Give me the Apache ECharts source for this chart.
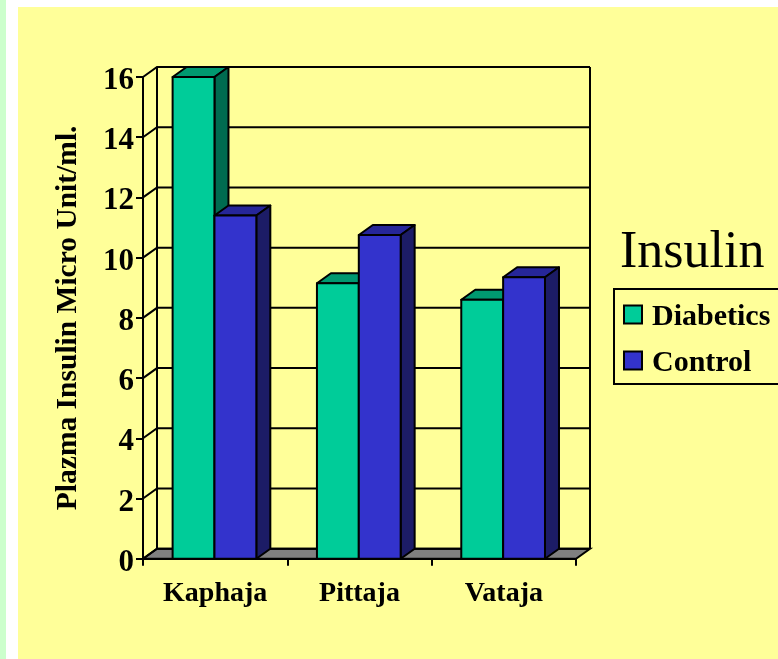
<!DOCTYPE html>
<html>
<head>
<meta charset="utf-8">
<style>html,body{margin:0;padding:0;background:#fff}#c{width:778px;height:659px}</style>
<script src="https://cdn.jsdelivr.net/npm/echarts@6/dist/echarts.min.js"></script>
</head>
<body>
<div id="c"></div>
<script>
var categories = ['Kaphaja', 'Pittaja', 'Vataja'];
var diabetics = [16, 9.15, 8.6];
var control = [11.4, 10.75, 9.35];
var yTicks = [0, 2, 4, 6, 8, 10, 12, 14, 16];

var DX = 14, DY = 10, SERIF = '"Liberation Serif","Times New Roman",serif';
var LINE = {stroke: '#000', lineWidth: 2, fill: null};

function wall(params, api) {
  var cs = params.coordSys;
  var p = api.coord([0, api.value(1)]);
  var y = p[1], x0 = cs.x, x1 = cs.x + cs.width;
  var kids = [{type: 'polyline', shape: {points: [[x0, y], [x0 + DX, y - DY], [x1 + DX, y - DY]]}, style: LINE}];
  if (api.value(1) === 0) {
    var top = cs.y - DY;
    kids.unshift({type: 'polygon', shape: {points: [[x0, y], [x0 + DX, y - DY], [x1 + DX, y - DY], [x1, y]]},
      style: {fill: '#808080', stroke: '#000', lineWidth: 2}});
    kids.push({type: 'line', shape: {x1: x0 + DX, y1: y - DY, x2: x0 + DX, y2: top}, style: LINE});
    kids.push({type: 'line', shape: {x1: x1 + DX, y1: y - DY, x2: x1 + DX, y2: top}, style: LINE});
  }
  return {type: 'group', children: kids};
}

function barRenderer(side, front, topC, sideC) {
  return function (params, api) {
    var t = api.coord([api.value(0), api.value(1)]);
    var b = api.coord([api.value(0), 0]);
    var w = api.size([1, 0])[0] * 0.29;
    var xa = (side < 0 ? t[0] - w : t[0]) - 0.7, xb = xa + w;
    var st = function (f) { return {fill: f, stroke: '#000', lineWidth: 2, lineJoin: 'round'}; };
    return {type: 'group', children: [
      {type: 'polygon', shape: {points: [[xa, t[1]], [xa + DX, t[1] - DY], [xb + DX, t[1] - DY], [xb, t[1]]]}, style: st(topC)},
      {type: 'polygon', shape: {points: [[xb, t[1]], [xb + DX, t[1] - DY], [xb + DX, b[1] - DY], [xb, b[1]]]}, style: st(sideC)},
      {type: 'rect', shape: {x: xa, y: t[1], width: w, height: b[1] - t[1]}, style: st(front)}
    ]};
  };
}

var chart = echarts.init(document.getElementById('c'), null, {renderer: 'canvas', width: 778, height: 659});
chart.setOption({
  animation: false,
  backgroundColor: '#fff',
  graphic: [
    {type: 'rect', z: -10, silent: true, shape: {x: 0, y: 0, width: 6, height: 659}, style: {fill: '#CCFFCC'}},
    {type: 'rect', z: -10, silent: true, shape: {x: 18, y: 7, width: 760, height: 652}, style: {fill: '#FFFF99'}}
  ],
  title: {text: 'Insulin', left: 615, top: 222,
    textStyle: {fontFamily: SERIF, fontWeight: 'normal', fontSize: 52, color: '#000'}},
  legend: {
    orient: 'vertical', left: 614, top: 289, align: 'left',
    data: ['Diabetics', 'Control'],
    icon: 'rect',
    padding: [13, 24, 6, 9], itemGap: 16, itemWidth: 18, itemHeight: 18,
    borderColor: '#000', borderWidth: 2, backgroundColor: 'transparent',
    formatter: '{a|{name}}',
    textStyle: {rich: {a: {fontFamily: SERIF, fontWeight: 'bold', fontSize: 30, color: '#000', padding: [5, 0, 0, 5]}}},
    itemStyle: {borderColor: '#000', borderWidth: 2}
  },
  grid: {left: 143, right: 202, top: 77, height: 481.7, containLabel: false},
  xAxis: {
    type: 'category', data: categories,
    axisLine: {show: true, lineStyle: {color: '#000', width: 2}},
    axisTick: {show: true, length: 7, lineStyle: {color: '#000', width: 2}},
    axisLabel: {fontFamily: SERIF, fontWeight: 'bold', fontSize: 28, color: '#000', margin: 21},
    splitLine: {show: false}
  },
  yAxis: {
    type: 'value', min: 0, max: 16, interval: 2,
    name: 'Plazma Insulin Micro Unit/ml.', nameLocation: 'middle', nameRotate: 90, nameGap: 60,
    nameTextStyle: {fontFamily: SERIF, fontWeight: 'bold', fontSize: 29.5, color: '#000'},
    axisLine: {show: true, lineStyle: {color: '#000', width: 2}},
    axisTick: {show: true, length: 7, lineStyle: {color: '#000', width: 2}},
    axisLabel: {fontFamily: SERIF, fontWeight: 'bold', fontSize: 31, color: '#000', margin: 9, verticalAlign: 'top', lineHeight: 8},
    splitLine: {show: false}
  },
  series: [
    {type: 'custom', name: 'wall', silent: true, clip: false, z: 1, renderItem: wall,
      encode: {x: 0, y: 1}, data: yTicks.map(function (v) { return [0, v]; })},
    {type: 'custom', name: 'Diabetics', clip: false, z: 3, itemStyle: {color: '#00CC99'},
      renderItem: barRenderer(-1, '#00CC99', '#009970', '#006B50'),
      encode: {x: 0, y: 1}, data: diabetics.map(function (v, i) { return [i, v]; })},
    {type: 'custom', name: 'Control', clip: false, z: 4, itemStyle: {color: '#3333CC'},
      renderItem: barRenderer(1, '#3333CC', '#262699', '#1C1C66'),
      encode: {x: 0, y: 1}, data: control.map(function (v, i) { return [i, v]; })}
  ]
});
</script>
</body>
</html>
